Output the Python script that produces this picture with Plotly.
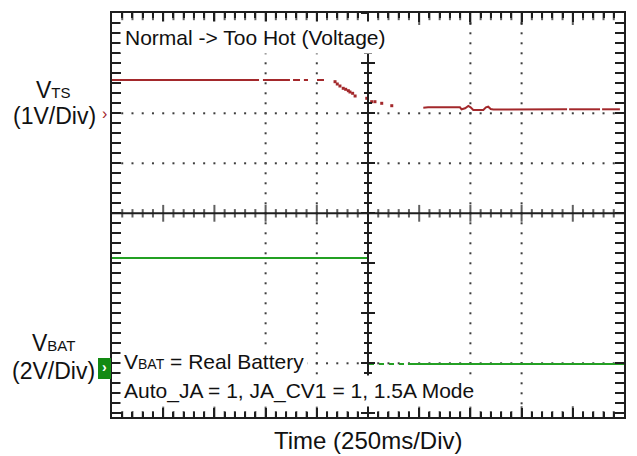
import plotly.graph_objects as go

# ---------------- data ----------------
TIME_PER_DIV_MS = 250          # 250 ms / div
N_XDIV = 10
VTS_VOLTS_PER_DIV = 1          # 1 V / div
VTS_GROUND_DIV = 2             # ground marker position (div from centre)
VBAT_VOLTS_PER_DIV = 2         # 2 V / div
VBAT_GROUND_DIV = -3

# V_TS trace (ms, V)  - solid parts, None = gap in record
vts_line_t = [0, 718, None, 737, 869, None, 884, 918, None, 937, 957, None, 1001, 1035,
              None, 1520, 1543, 1699, 1707, 1724, 1740, 1751, 1764, 1813, 1826, 1837, 1849,
              1862, 2222, None, 2232, 2383, None, 2393, 2480]
vts_line_v = [0.666, 0.666, None, 0.666, 0.666, None, 0.666, 0.666, None, 0.666, 0.666, None,
              0.666, 0.666, None, 0.112, 0.12, 0.12, 0.08, 0.10, 0.146, 0.12, 0.066, 0.066,
              0.12, 0.132, 0.086, 0.078, 0.08, None, 0.08, 0.08, None, 0.08, 0.08]
# V_TS sparse samples during the transition
vts_dots_t = [1089, 1100, 1113, 1129, 1141, 1154, 1162, 1175, 1187, 1244, 1268, 1284, 1317, 1366]
vts_dots_v = [0.632, 0.586, 0.546, 0.50, 0.48, 0.452, 0.426, 0.40, 0.346, 0.30, 0.232, 0.232,
              0.20, 0.152]

# V_BAT trace (ms, V)
vbat_t = [0, 1247, None, 1445, 2500]
vbat_v = [4.21, 4.21, None, -0.03, -0.03]
vbat_dash_t = [1255, 1445]
vbat_dash_v = [-0.03, -0.03]

# ---------------- layout constants ----------------
W, H = 637, 456
ML, MR, MT, MB = 112, 13, 13, 39
PW, PH = W - ML - MR, H - MT - MB
X_MAX = N_XDIV * TIME_PER_DIV_MS

RED = "#a3282b"
GREEN = "#23a023"
TICK = "#1e1e1e"
FONT = "Liberation Sans, Arial, sans-serif"

PX_PER_YDIV = 50.0
CY = 213.3                       # pixel row of graticule centre


def xp(px):
    return (px - ML) / PW


def yp(py):
    return (MT + PH - py) / PH


Y_TOP = (CY - MT) / PX_PER_YDIV
Y_BOT = (CY - (MT + PH)) / PX_PER_YDIV
MINOR_X = TIME_PER_DIV_MS / 5
DIV_PX = 1 / PX_PER_YDIV

# graticule dots
minor_x = [k * MINOR_X for k in range(1, N_XDIV * 5)]
major_x = [k * TIME_PER_DIV_MS for k in range(1, N_XDIV)]
minor_y = [j * 0.2 for j in range(-19, 20)]
dot_rows = [2, 1, -3]
dot_cols = [3, 4, 7, 8]
dx, dy = [], []
for r in dot_rows:
    for x in minor_x:
        dx.append(x)
        dy.append(r)
for c in dot_cols:
    for y in minor_y:
        dx.append(c * TIME_PER_DIV_MS)
        dy.append(y)

# time-axis tick marks as vertical line markers
tk_x, tk_y, tk_s = [], [], []
for k in range(1, N_XDIV * 5):
    x = k * MINOR_X
    major = k % 5 == 0
    lt = 10 if major else 6
    lb = 9 if major else 5
    lc = 12 if major else 6
    tk_x += [x, x, x]
    tk_y += [Y_TOP - lt / 2 * DIV_PX, Y_BOT + lb / 2 * DIV_PX, 0]
    tk_s += [lt, lb, lc]

fig = go.Figure()
fig.add_trace(go.Scatter(x=dx, y=dy, mode="markers", hoverinfo="skip",
                         marker=dict(symbol="square", size=2, color="#3c3c3c", line=dict(width=0))))
fig.add_trace(go.Scatter(x=tk_x, y=tk_y, mode="markers", hoverinfo="skip",
                         marker=dict(symbol="line-ns", size=tk_s, color=TICK,
                                     line=dict(width=2, color=TICK))))

# ---------------- signals ----------------
fig.add_trace(go.Scatter(x=vts_line_t, y=vts_line_v, yaxis="y2", mode="lines",
                         line=dict(color=RED, width=2), connectgaps=False))
fig.add_trace(go.Scatter(x=vts_dots_t, y=vts_dots_v, yaxis="y2", mode="markers",
                         marker=dict(color=RED, size=3, symbol="square", line=dict(width=0))))
fig.add_trace(go.Scatter(x=vbat_t, y=vbat_v, yaxis="y3", mode="lines",
                         line=dict(color=GREEN, width=2), connectgaps=False))
fig.add_trace(go.Scatter(x=vbat_dash_t, y=vbat_dash_v, yaxis="y3", mode="lines",
                         line=dict(color=GREEN, width=2, dash="5px,5px")))

hidden = dict(showgrid=False, zeroline=False, showticklabels=False, showline=False, ticks="")
common = dict(showgrid=False, zeroline=False, showticklabels=False, showline=True,
              linecolor=TICK, linewidth=2, tickcolor=TICK, tickwidth=2)

y_ticks = dict(tick0=0, dtick=1,
               minor=dict(tick0=0, dtick=0.2, ticklen=5, tickwidth=2, tickcolor=TICK,
                          showgrid=False, ticks="inside"))
cy_out = dict(tick0=0, dtick=1, ticklen=6,
              minor=dict(tick0=0, dtick=0.2, ticklen=3, tickwidth=2, tickcolor=TICK,
                         showgrid=False, ticks="outside"))
cy_in = dict(tick0=0, dtick=1, ticklen=6,
             minor=dict(tick0=0, dtick=0.2, ticklen=3, tickwidth=2, tickcolor=TICK,
                        showgrid=False, ticks="inside"))

fig.update_layout(
    width=W, height=H,
    margin=dict(l=ML, r=MR, t=MT, b=MB, pad=0),
    paper_bgcolor="white", plot_bgcolor="white",
    showlegend=False,
    font=dict(family=FONT, color="#111", size=21),
    # frame: time axis with its own ticks on top and bottom edges
    xaxis=dict(range=[0, X_MAX], type="linear", mirror="ticks", ticks="inside",
               tickmode="array", tickvals=minor_x, ticklen=5, **common),
    xaxis2=dict(range=[0, X_MAX], type="linear", overlaying="x", mirror="ticks",
                ticks="inside", tickmode="array", tickvals=major_x, ticklen=9, **common),
    yaxis=dict(range=[Y_BOT, Y_TOP], mirror="allticks", ticks="inside", ticklen=9, **y_ticks,
               **common),
    yaxis2=dict(range=[(Y_BOT - VTS_GROUND_DIV) * VTS_VOLTS_PER_DIV,
                       (Y_TOP - VTS_GROUND_DIV) * VTS_VOLTS_PER_DIV],
                overlaying="y", **hidden),
    yaxis3=dict(range=[(Y_BOT - VBAT_GROUND_DIV) * VBAT_VOLTS_PER_DIV,
                       (Y_TOP - VBAT_GROUND_DIV) * VBAT_VOLTS_PER_DIV],
                overlaying="y", **hidden),
    yaxis4=dict(range=[Y_BOT, Y_TOP], overlaying="y", anchor="free", position=0.5,
                ticks="outside", **cy_out, **common),
    yaxis5=dict(range=[Y_BOT, Y_TOP], overlaying="y", anchor="free", position=0.5,
                ticks="inside", **cy_in, **common),
)
fig.add_trace(go.Scatter(x=[None], y=[None], xaxis="x2", yaxis="y", hoverinfo="skip"))
fig.add_trace(go.Scatter(x=[None], y=[None], xaxis="x", yaxis="y4", hoverinfo="skip"))
fig.add_trace(go.Scatter(x=[None], y=[None], xaxis="x", yaxis="y5", hoverinfo="skip"))

# centre horizontal cross-hair line
fig.add_shape(type="line", xref="paper", yref="paper", x0=0, x1=1, y0=yp(CY), y1=yp(CY),
              line=dict(color=TICK, width=2))
# VBAT ground marker box
fig.add_shape(type="rect", xref="paper", yref="paper", x0=xp(98), x1=xp(111),
              y0=yp(379), y1=yp(358), line=dict(width=0), fillcolor="#128a12")

ann = []


def add_text(text, x, y, xanchor="left", size=21, color="#111", bg=None, pad=0):
    d = dict(text=text, x=xp(x), y=yp(y), xref="paper", yref="paper", showarrow=False,
             xanchor=xanchor, yanchor="middle", font=dict(size=size, color=color, family=FONT),
             borderpad=pad)
    if bg:
        d["bgcolor"] = bg
    ann.append(d)


add_text("Normal -&gt; Too Hot (Voltage)", 120, 37, bg="white", pad=4)
add_text("V<span style='font-size:15px'>TS</span>", 53, 90, xanchor="center", size=23)
add_text("(1V/Div)", 54, 116, xanchor="center", size=23)
add_text("V<span style='font-size:15px'>BAT</span>", 53, 343, xanchor="center", size=23)
add_text("(2V/Div)", 53, 371, xanchor="center", size=23)
add_text("V<span style='font-size:14px'>BAT</span> = Real Battery", 120, 361, bg="white", pad=3)
add_text("Auto_JA = 1, JA_CV1 = 1, 1.5A Mode", 120, 391, bg="white", pad=3)
add_text("Time (250ms/Div)", 368, 440, xanchor="center", size=24)
add_text("›", 104, 113, xanchor="center", size=16, color=RED)
add_text("<b>›</b>", 104.5, 367, xanchor="center", size=14, color="white")
fig.update_layout(annotations=ann)

fig.write_html("out.html")
